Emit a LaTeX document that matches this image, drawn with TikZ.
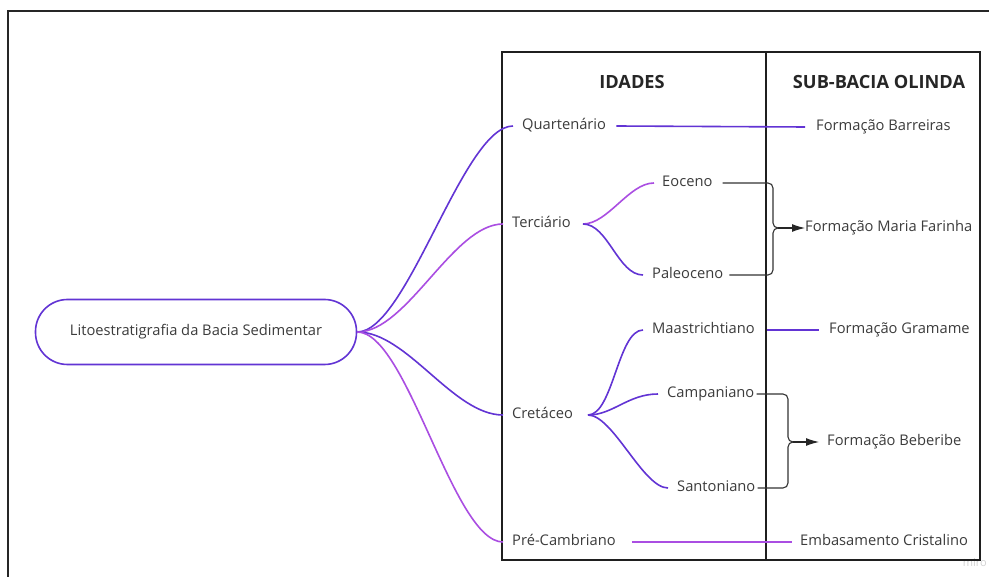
\documentclass[tikz,border=0pt]{standalone}
\usepackage{fontspec}
\setmainfont{Open Sans}
\usetikzlibrary{arrows.meta}
\definecolor{dv}{RGB}{98,52,212}
\definecolor{lv}{RGB}{170,78,226}
\definecolor{txt}{RGB}{60,60,60}
\begin{document}
\begin{tikzpicture}[x=1pt,y=-1pt,
  lbl/.style={anchor=west,inner sep=0pt,text height=10pt,text depth=3pt,font=\fontsize{14.7}{17}\selectfont,text=txt},
  hdr/.style={inner sep=0pt,font=\fontsize{18.2}{21}\selectfont\bfseries,text=black!85},
  dcon/.style={draw=dv,line width=1.6pt},
  lcon/.style={draw=lv,line width=1.6pt},
  bcon/.style={draw=black!80,line width=1.1pt,rounded corners=5pt},
  arr/.style={draw=black!85,line width=1.1pt,-{Latex[length=13pt,width=8pt]}},
]
\useasboundingbox (0,0) rectangle (989,577);
\fill[white] (0,0) rectangle (989,577);
\draw[line width=1.6pt,black!85] (8,577) -- (8,11) -- (989,11);
\node[text=gray!35,font=\fontsize{11}{12}\selectfont,anchor=base east,inner sep=0pt] (wm) at (987,566) {miro};
\draw[line width=1.8pt,black!88] (502,52) rectangle (980,560);
\draw[line width=1.8pt,black!88] (766,52) -- (766,560);
\node[hdr] (h1) at (632,82) {IDADES};
\node[hdr] (h2) at (879,82) {SUB-BACIA OLINDA};
\node[lbl,draw=dv,line width=1.6pt,rounded corners=32pt,minimum width=321pt,minimum height=65pt,anchor=center] (root) at (196,332) {Litoestratigrafia da Bacia Sedimentar};
\node[lbl] (q) at (522,126) {Quartenário};
\node[lbl] (te) at (512,224) {Terciário};
\node[lbl] (cr) at (512,415) {Cretáceo};
\node[lbl] (pc) at (512,542) {Pré-Cambriano};
\node[lbl] (eo) at (662,183) {Eoceno};
\node[lbl] (pa) at (652,275) {Paleoceno};
\node[lbl] (ma) at (652,330) {Maastrichtiano};
\node[lbl] (ca) at (667,394) {Campaniano};
\node[lbl] (sa) at (677,488) {Santoniano};
\node[lbl] (fb) at (816,127) {Formação Barreiras};
\node[lbl] (fmf) at (805,228) {Formação Maria Farinha};
\node[lbl] (fg) at (829,330) {Formação Gramame};
\node[lbl] (fbe) at (827,442) {Formação Beberibe};
\node[lbl] (ec) at (800,542) {Embasamento Cristalino};
\coordinate (tb) at (583,224);
\coordinate (cb) at (588,415);
\coordinate (br1) at (773,228);
\coordinate (br2) at (788,442);
% root branches
\draw[dcon] (root.east) .. controls +(50,0) and +(-50,0) .. ([xshift=-9pt]q.west);
\draw[lcon] (root.east) .. controls +(50,0) and +(-50,0) .. ([xshift=-9pt]te.west);
\draw[dcon] (root.east) .. controls +(50,0) and +(-50,0) .. ([xshift=-9pt]cr.west);
\draw[lcon] (root.east) .. controls +(50,0) and +(-50,0) .. ([xshift=-9pt]pc.west);
% sub branches
\draw[lcon] (tb) .. controls +(25,0) and +(-25,0) .. ([xshift=-8pt]eo.west);
\draw[dcon] (tb) .. controls +(25,0) and +(-25,0) .. ([xshift=-9pt]pa.west);
\draw[dcon] (cb) .. controls +(25,0) and +(-25,0) .. ([xshift=-9pt]ma.west);
\draw[dcon] (cb) .. controls +(25,0) and +(-30,0) .. ([xshift=-9pt]ca.west);
\draw[dcon] (cb) .. controls +(25,0) and +(-25,0) .. ([xshift=-9pt]sa.west);
% straight links
\draw[dcon] ([xshift=10pt]q.east) -- ([xshift=-11pt]fb.west);
\draw[dcon] ([xshift=12pt]ma.east) -- ([xshift=-10pt]fg.west);
\draw[lcon] ([xshift=16pt]pc.east) -- ([xshift=-8pt]ec.west);
% braces
\draw[bcon] ([xshift=10pt]eo.east) -| (br1) -- ++(5,0);
\draw[bcon] ([xshift=6pt]pa.east) -| (br1) -- ++(5,0);
\draw[arr] ([xshift=5pt]br1) -- (fmf.west);
\draw[bcon] ([xshift=2pt]ca.east) -| (br2) -- ++(5,0);
\draw[bcon] ([xshift=2pt]sa.east) -| (br2) -- ++(5,0);
\draw[arr] ([xshift=5pt]br2) -- ([xshift=-8pt]fbe.west);
\end{tikzpicture}
\end{document}
